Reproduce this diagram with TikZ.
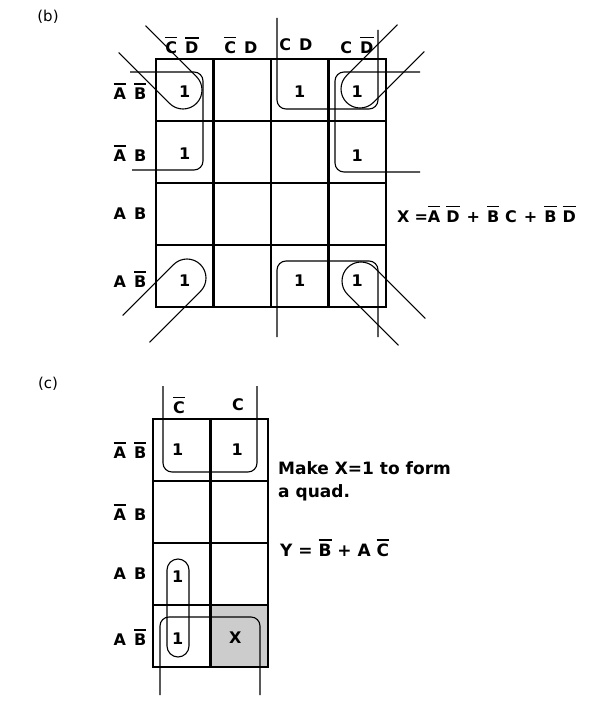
\documentclass[tikz,border=0pt]{standalone}
\usepackage{fontspec}
\setmainfont{DejaVu Sans}
\usetikzlibrary{positioning}
% letter with a bar over it
\newcommand{\nb}[1]{\setbox0\hbox{#1}\rlap{\raisebox{\dimexpr\ht0+3pt\relax}{\rule{\wd0}{1.8pt}}}\box0\relax}
\newcommand{\gap}{\hspace{8pt}}
\tikzset{
  kcell/.style={draw, line width=2.2pt, minimum width=57.5pt, minimum height=62pt,
    inner sep=0pt, outer sep=0pt},
  klabel/.style={font=\bfseries\fontsize{16}{18}\selectfont, inner sep=0pt},
  kone/.style={font=\bfseries\fontsize{16}{18}\selectfont, inner sep=0pt},
  partlabel/.style={font=\fontsize{15}{17}\selectfont, inner sep=0pt},
  loopline/.style={line width=1.1pt, rounded corners=9pt},
  note/.style={font=\bfseries\fontsize{17}{23}\selectfont, align=left, anchor=west, inner sep=0pt}
}
% corner loop: centre x, centre y, direction it faces
\newcommand{\tear}[3]{%
  \begin{scope}[shift={(#1,#2)}, rotate=#3]
    \draw[line width=1.1pt] (-72,19) -- (0,19) arc[start angle=90, end angle=-90, radius=19] -- (-72,-19);
  \end{scope}}

\begin{document}
\begin{tikzpicture}[x=1pt, y=-1pt]
\useasboundingbox (0,0) rectangle (591,719);

% ---- (b) ----
\node[partlabel] (lab-b) at (48,17) {(b)};
\foreach \r in {1,...,4}
  \foreach \c in {1,...,4}
    \node[kcell] (b\r\c) at ({156+57.5*(\c-0.5)},{59+62*(\r-0.5)}) {};
\draw[line width=2.8pt] (b11.north west) rectangle (b44.south east);

\node[klabel] (bc1) at (182,45) {\nb{C}\gap\nb{D}};
\node[klabel] (bc2) at (241,45) {\nb{C}\gap D};
\node[klabel] (bc3) at (296,45) {C\gap D};
\node[klabel] (bc4) at (357,45) {C\gap\nb{D}};
\node[klabel] (br1) at (130,91) {\nb{A}\gap\nb{B}};
\node[klabel] (br2) at (130,153) {\nb{A}\gap B};
\node[klabel] (br3) at (130,214) {A\gap B};
\node[klabel] (br4) at (130,279) {A\gap\nb{B}};

\node[kone] (b11one) at ([yshift=-2pt]b11) {1};
\node[kone] (b21one) at ([yshift=-2pt]b21) {1};
\node[kone] (b13one) at ([yshift=-2pt]b13) {1};
\node[kone] (b14one) at ([yshift=-2pt]b14) {1};
\node[kone] (b24one) at ([yshift=-4pt]b24) {1};
\node[kone] (b41one) at ([yshift=-5pt]b41) {1};
\node[kone] (b43one) at ([yshift=-5pt]b43) {1};
\node[kone] (b44one) at ([yshift=-5pt]b44) {1};

% A'D' group, wrapped round the sides
\draw[loopline] (130,72) -- (203,72) -- (203,170) -- (132,170);
\draw[loopline] (420,72) -- (335,72) -- (335,172) -- (420,172);
% B'C group, wrapped top and bottom
\draw[loopline] (277,18) -- (277,109) -- (378,109) -- (378,30);
\draw[loopline] (277,337) -- (277,261) -- (378,261) -- (378,337);
% B'D' group, the four corners
\tear{183}{90}{-45}
\tear{360}{89}{-135}
\tear{187}{278}{45}
\tear{361}{281}{135}

\node[klabel, anchor=west] (eqx) at (397,214)
  {X\hspace{5pt}=\nb{A}\hspace{6pt}\nb{D}\hspace{7pt}+\hspace{7pt}\nb{B}\hspace{6pt}C\hspace{7pt}+\hspace{7pt}\nb{B}\hspace{6pt}\nb{D}};

% ---- (c) ----
\node[partlabel] (lab-c) at (48,384) {(c)};
\fill[gray!40] (210.5,606) rectangle (268,668);
\foreach \r in {1,...,4}
  \foreach \c in {1,2}
    \node[kcell] (c\r\c) at ({153+57.5*(\c-0.5)},{419+62*(\r-0.5)}) {};
\draw[line width=2.8pt] (c11.north west) rectangle (c42.south east);

\node[klabel] (cc1) at (179,405) {\nb{C}};
\node[klabel] (cc2) at (238,405) {C};
\node[klabel] (cr1) at (130,450) {\nb{A}\gap\nb{B}};
\node[klabel] (cr2) at (130,512) {\nb{A}\gap B};
\node[klabel] (cr3) at (130,574) {A\gap B};
\node[klabel] (cr4) at (130,637) {A\gap\nb{B}};

\node[kone] (c11one) at ([xshift=-4pt]c11) {1};
\node[kone] (c12one) at ([xshift=-2pt]c12) {1};
\node[kone] (c31one) at ([xshift=-4pt, yshift=-3pt]c31) {1};
\node[kone] (c41one) at ([xshift=-4pt, yshift=-3pt]c41) {1};
\node[kone] (c42x) at ([xshift=-4pt, yshift=-2pt]c42) {X};

\draw[loopline] (163,386) -- (163,472) -- (257,472) -- (257,386);
\draw[loopline] (160,695) -- (160,617) -- (260,617) -- (260,695);
\draw[line width=1.1pt, rounded corners=11pt] (167,559) rectangle (189,657);

\node[note] (quadnote) at (278,481) {Make X=1 to form\\a quad.};
\node[note] (yeq) at (280,548) {Y = \nb{B} + A \nb{C}};
\end{tikzpicture}
\end{document}
